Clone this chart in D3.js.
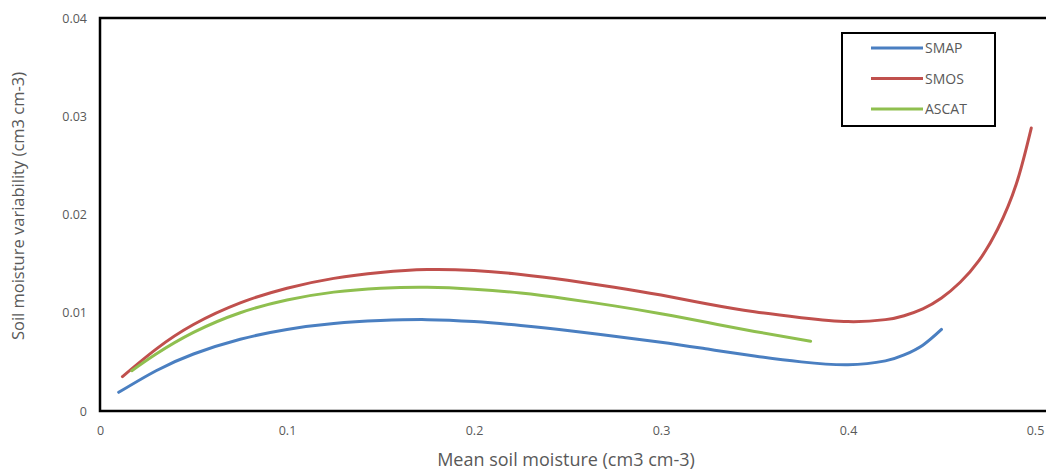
<!DOCTYPE html>
<html><head><meta charset="utf-8">
<script src="https://cdn.jsdelivr.net/npm/d3@7"></script>
<style>body{margin:0;background:#fff;}svg{display:block;font-family:"Open Sans",sans-serif;}</style>
</head><body>
<svg id="c" width="1046" height="470"></svg>
<script>
const seriesNames = ["SMAP", "SMOS", "ASCAT"];
const seriesColors = ["#4a7fc1", "#c0504d", "#8fbf4f"];
const smapX = [0.01,0.03,0.05,0.075,0.10,0.125,0.15,0.175,0.20,0.225,0.25,0.275,0.30,0.325,0.35,0.375,0.40,0.42,0.43,0.44,0.45];
const smapY = [0.0019,0.0041,0.0058,0.0073,0.0083,0.0089,0.0092,0.0093,0.0091,0.0087,0.0082,0.0076,0.0070,0.0063,0.0056,0.0050,0.0047,0.0051,0.0057,0.0067,0.0083];
const smosX = [0.012,0.03,0.05,0.075,0.10,0.125,0.15,0.175,0.20,0.225,0.25,0.275,0.30,0.325,0.35,0.375,0.40,0.42,0.43,0.44,0.45,0.46,0.47,0.48,0.49,0.498];
const smosY = [0.0035,0.0063,0.0088,0.0110,0.0125,0.0135,0.0141,0.0144,0.0143,0.0139,0.0133,0.0126,0.0118,0.0109,0.0101,0.0095,0.0091,0.0093,0.0097,0.0104,0.0115,0.0131,0.0153,0.0185,0.0231,0.0288];
const ascatX = [0.017,0.03,0.05,0.075,0.10,0.125,0.15,0.175,0.20,0.225,0.25,0.275,0.30,0.325,0.35,0.38];
const ascatY = [0.0041,0.0058,0.0080,0.0100,0.0113,0.0121,0.0125,0.0126,0.0124,0.0120,0.0114,0.0107,0.0099,0.0090,0.0081,0.0071];
const xTicks = [0,0.1,0.2,0.3,0.4,0.5];
const yTicks = [0,0.01,0.02,0.03,0.04];

const svg = d3.select("#c");
const m = {l:100, t:18, r:1052, b:411};
const x = d3.scaleLinear().domain([0,0.5]).range([m.l, m.l + 0.5*1870]);
const y = d3.scaleLinear().domain([0,0.04]).range([m.b, m.t]);

// frame
svg.append("path").attr("d", `M${m.r},${m.t}H${m.l}V${m.b}H${m.r}`)
  .attr("fill","none").attr("stroke","#000").attr("stroke-width",2.5);

// tick labels
const xa = svg.append("g").attr("transform",`translate(0,${m.b})`)
  .call(d3.axisBottom(x).tickValues(xTicks).tickSize(0).tickPadding(15).tickFormat(d=>d===0?"0":d3.format(".1f")(d)));
xa.select(".domain").remove();
xa.selectAll("text").attr("fill","#595959").attr("font-size",12.5).attr("font-family","Open Sans, sans-serif");
const ya = svg.append("g").attr("transform",`translate(${m.l},0)`)
  .call(d3.axisLeft(y).tickValues(yTicks).tickSize(0).tickPadding(13).tickFormat(d=>d===0?"0":d3.format(".2f")(d)));
ya.select(".domain").remove();
ya.selectAll("text").attr("fill","#595959").attr("font-size",12.5).attr("font-family","Open Sans, sans-serif");

// titles
svg.append("text").attr("x",566).attr("y",466).attr("text-anchor","middle")
  .attr("fill","#595959").attr("font-size",18).attr("font-family","Open Sans, sans-serif")
  .text("Mean soil moisture (cm3 cm-3)");
svg.append("text").attr("transform","translate(24,206) rotate(-90)").attr("text-anchor","middle")
  .attr("fill","#595959").attr("font-size",16.5).attr("font-family","Open Sans, sans-serif")
  .text("Soil moisture variability (cm3 cm-3)");

const line = d3.line().x(d=>x(d[0])).y(d=>y(d[1])).curve(d3.curveNatural);
const data = [d3.zip(smapX,smapY), d3.zip(smosX,smosY), d3.zip(ascatX,ascatY)];
const order = [1,2,0];
order.forEach(i=>{
  svg.append("path").attr("d",line(data[i])).attr("fill","none")
    .attr("stroke",seriesColors[i]).attr("stroke-width",3).attr("stroke-linecap","round");
});

// legend
const lg = svg.append("g");
lg.append("rect").attr("x",842).attr("y",33).attr("width",153).attr("height",93)
  .attr("fill","#fff").attr("stroke","#000").attr("stroke-width",2);
seriesNames.forEach((n,i)=>{
  const yy = 48 + i*30.5;
  lg.append("line").attr("x1",871).attr("x2",923).attr("y1",yy).attr("y2",yy)
    .attr("stroke",seriesColors[i]).attr("stroke-width",3);
  lg.append("text").attr("x",925).attr("y",yy+5).attr("fill","#595959")
    .attr("font-size",14).attr("font-family","Open Sans, sans-serif").text(n);
});
</script>
</body></html>
